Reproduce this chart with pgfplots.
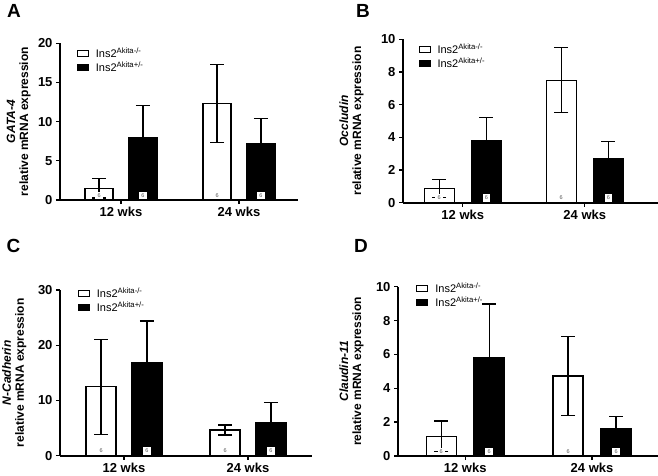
\documentclass[border=0pt]{standalone}
\usepackage{fontspec}
\setmainfont{Liberation Sans}
\usepackage{pgfplots}
\pgfplotsset{compat=1.18}
\pgfplotsset{
  panel/.style={
    scale only axis,
    axis x line*=bottom, axis y line*=left,
    axis line style={line width=1.6pt},
    ymin=0,
    xtick={0,1}, xticklabels={12 wks,24 wks},
    tick style={line width=1.3pt, black},
    tick align=outside,
    major tick length=4pt,
    ticklabel style={font=\fontsize{13}{13}\selectfont\bfseries},
    /pgf/number format/assume math mode=true,
    ylabel style={font=\fontsize{12}{13}\selectfont\bfseries, align=center, anchor=center},
    legend style={draw=none, fill=none, font=\fontsize{11}{12}\selectfont, anchor=north west,
      row sep=-1pt, inner sep=0pt, cells={anchor=west},
      every legend image post/.style={xshift=-3pt}},
  },
  mybar/.style={ybar, bar shift=0pt, line width=1.2pt, draw=black,
    legend image code/.code={\draw[##1, line width=1pt] (0pt,-2.8pt) rectangle (11pt,2.8pt);},
    /pgfplots/error bars/y dir=both, /pgfplots/error bars/y explicit,
    /pgfplots/error bars/error bar style={line width=1.2pt, black},
    /pgfplots/error bars/error mark options={rotate=90, mark size=7pt, line width=1.2pt, black}},
  nlab/.style={draw=none, forget plot, mark=none, nodes near coords={6},
    every node near coord/.append style={anchor=south, fill=white, inner sep=0pt,
      minimum width=7.5pt, minimum height=7.5pt, yshift=0.8pt,
      font=\fontsize{5.5}{5.5}\selectfont, text=black!65}},
}
\newcommand{\lw}{\hspace{5pt}Ins2\textsuperscript{Akita-/-}}
\newcommand{\lb}{\hspace{5pt}Ins2\textsuperscript{Akita+/-}}
\begin{document}
\begin{tikzpicture}
\path[use as bounding box] (0pt,0pt) rectangle (658pt,475pt);
% Panel A
\node[font=\fontsize{19}{19}\selectfont\bfseries] at (14pt,464pt) {A};
\begin{axis}[panel, at={(60pt,275pt)}, anchor=south west,
  width=238pt, height=156.7pt, xmin=-0.517, xmax=1.5, ymax=20, ytick={0,5,...,20},
  ylabel={\textit{GATA-4}\\relative mRNA expression},
  ylabel style={at={(axis description cs:-0.174,0.5)}},
  legend style={at={(axis description cs:0.07,0.985)}}]
\addplot[mybar, bar width=28pt, fill=white]
  coordinates {(-0.186,1.5) +- (0,1.25) (0.814,12.3) +- (0,5.0)};
\addlegendentry{\lw}
\addplot[mybar, bar width=28pt, fill=black]
  coordinates {(0.186,7.95) +- (0,4.1) (1.186,7.15) +- (0,3.25)};
\addlegendentry{\lb}
\addplot[nlab] coordinates {(-0.186,0) (0.814,0) (0.186,0) (1.186,0)};
\end{axis}
% Panel B
\node[font=\fontsize{19}{19}\selectfont\bfseries] at (363pt,464pt) {B};
\begin{axis}[panel, at={(403pt,272.3pt)}, anchor=south west,
  width=255pt, height=163.4pt, xmin=-0.49, xmax=1.6, ymax=10, ytick={0,2,...,10},
  ylabel={\textit{Occludin}\\relative mRNA expression},
  ylabel style={at={(axis description cs:-0.202,0.5)}},
  legend style={at={(axis description cs:0.06,0.985)}}]
\addplot[mybar, bar width=30pt, fill=white]
  coordinates {(-0.193,0.86) +- (0,0.54) (0.807,7.5) +- (0,2.0)};
\addlegendentry{\lw}
\addplot[mybar, bar width=30pt, fill=black]
  coordinates {(0.193,3.8) +- (0,1.42) (1.193,2.72) +- (0,1.02)};
\addlegendentry{\lb}
\addplot[nlab] coordinates {(-0.193,0) (0.807,0) (0.193,0) (1.193,0)};
\end{axis}
% Panel C
\node[font=\fontsize{19}{19}\selectfont\bfseries] at (13.5pt,229pt) {C};
\begin{axis}[panel, at={(60pt,19.3pt)}, anchor=south west,
  width=252pt, height=165.7pt, xmin=-0.516, xmax=1.516, ymax=30, ytick={0,10,...,30},
  ylabel={\textit{N-Cadherin}\\relative mRNA expression},
  ylabel style={at={(axis description cs:-0.181,0.5)}},
  legend style={at={(axis description cs:0.07,1.025)}}]
\addplot[mybar, bar width=30pt, fill=white]
  coordinates {(-0.185,12.5) +- (0,8.6) (0.815,4.65) +- (0,0.9)};
\addlegendentry{\lw}
\addplot[mybar, bar width=30pt, fill=black]
  coordinates {(0.185,16.8) +- (0,7.6) (1.185,6.05) +- (0,3.6)};
\addlegendentry{\lb}
\addplot[nlab] coordinates {(-0.185,0) (0.815,0) (0.185,0) (1.185,0)};
\end{axis}
% Panel D
\node[font=\fontsize{19}{19}\selectfont\bfseries] at (361pt,229pt) {D};
\begin{axis}[panel, at={(398pt,19pt)}, anchor=south west,
  width=260pt, height=169.3pt, xmin=-0.53, xmax=1.52, ymax=10, ytick={0,2,...,10},
  ylabel={\textit{Claudin-11}\\relative mRNA expression},
  ylabel style={at={(axis description cs:-0.179,0.5)}},
  legend style={at={(axis description cs:0.07,1.035)}}]
\addplot[mybar, bar width=30pt, fill=white]
  coordinates {(-0.189,1.16) +- (0,0.91) (0.811,4.72) +- (0,2.32)};
\addlegendentry{\lw}
\addplot[mybar, bar width=31pt, fill=black]
  coordinates {(0.189,5.82) +- (0,3.16) (1.189,1.6) +- (0,0.73)};
\addlegendentry{\lb}
\addplot[nlab] coordinates {(-0.189,0) (0.811,0) (0.189,0) (1.189,0)};
\end{axis}
\end{tikzpicture}
\end{document}
